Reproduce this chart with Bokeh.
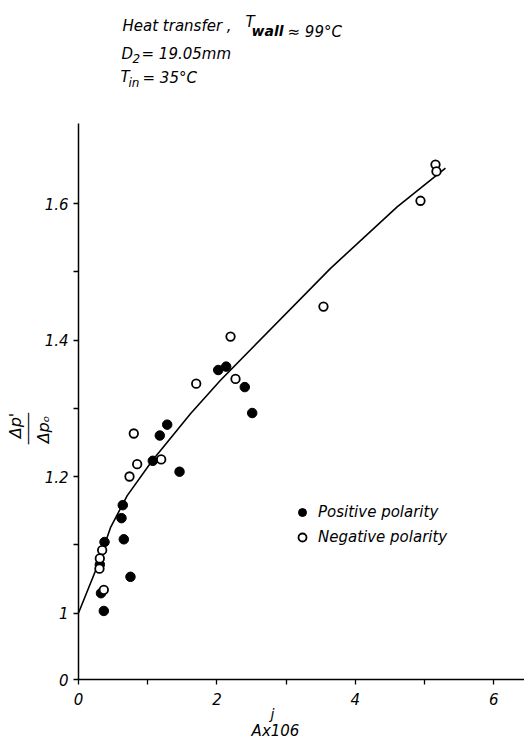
from bokeh.plotting import figure
from bokeh.models import Range1d, FixedTicker, Legend, LegendItem
from bokeh.core.properties import value
from bokeh.embed import file_html
from bokeh.resources import INLINE

# Current density j (A x 10^6) against relative pressure drop, by electrode polarity
pos_j = [0.366, 0.325, 0.751, 0.376, 0.308, 0.655, 0.621, 0.640, 1.074, 1.175,
         1.282, 1.460, 2.019, 2.134, 2.403, 2.510]
pos_dp = [1.003, 1.029, 1.053, 1.104, 1.071, 1.108, 1.139, 1.158, 1.223, 1.260,
          1.276, 1.207, 1.356, 1.361, 1.331, 1.293]

neg_j = [0.366, 0.342, 0.308, 0.303, 0.737, 0.848, 0.799, 1.195, 1.701, 2.269,
         2.197, 3.540, 4.942, 5.159, 5.173]
neg_dp = [1.034, 1.092, 1.080, 1.065, 1.200, 1.218, 1.263, 1.225, 1.336, 1.343,
          1.405, 1.449, 1.604, 1.657, 1.647]

# Smoothed trend through both series
fit_j = [0.0, 0.246, 0.462, 0.704, 1.065, 1.618, 2.052, 3.642, 4.605, 5.303]
fit_dp = [1.0, 1.062, 1.125, 1.172, 1.223, 1.292, 1.341, 1.505, 1.595, 1.652]

x_ticks = [0, 2, 4, 6]
x_minor = [1, 3, 5]
y_ticks = [1.0, 1.2, 1.4, 1.6]
y_minor = [1.1, 1.3, 1.5]
y_labels = ["1", "1.2", "1.4", "1.6"]

# Canvas geometry: the frame fills the canvas, axes sit at fixed locations
W, H = 524, 740
AX_L, AX_B, AX_T = 78, 679, 123   # pixel positions of axis origin / top end
XS = 69.2                          # px per unit of j
YS = 682.5                         # px per unit of dp ratio


def dx(px):
    return (px - AX_L) / XS


def dy(py):
    return 1.6 + (203 - py) / YS


X_START, X_END = dx(0), dx(W)
Y_START, Y_END = dy(H), dy(0)
Y_BREAK = dy(AX_B)                 # broken axis: the zero sits here

FONT = "DejaVu Sans"

p = figure(width=W, height=H, output_backend="svg", toolbar_location=None,
           x_range=Range1d(X_START, X_END), y_range=Range1d(Y_START, Y_END),
           min_border=0)
p.outline_line_color = None
p.grid.visible = False
p.background_fill_color = "white"
p.border_fill_color = "white"

for ax in (p.xaxis[0], p.yaxis[0]):
    ax.axis_line_color = "black"
    ax.axis_line_width = 1.5
    ax.major_tick_line_color = "black"
    ax.minor_tick_line_color = "black"
    ax.major_tick_line_width = 1.3
    ax.minor_tick_line_width = 1.3
    ax.major_tick_in = 0
    ax.major_tick_out = 5
    ax.minor_tick_in = 0
    ax.minor_tick_out = 5
    ax.major_label_text_font = FONT
    ax.major_label_text_font_style = "italic"
    ax.major_label_text_font_size = "15px"
    ax.major_label_text_color = "black"

xa = p.xaxis[0]
xa.fixed_location = Y_BREAK
xa.bounds = (0, X_END)
xa.ticker = FixedTicker(ticks=x_ticks, minor_ticks=x_minor)
xa.major_label_standoff = 8
xa.major_label_overrides = {t: str(t) for t in x_ticks}

ya = p.yaxis[0]
ya.fixed_location = 0
ya.bounds = (Y_BREAK, dy(AX_T))
ya.ticker = FixedTicker(ticks=[Y_BREAK] + y_ticks, minor_ticks=y_minor)
ya.major_label_standoff = 5
overrides = {Y_BREAK: "0"}
overrides.update(dict(zip(y_ticks, y_labels)))
ya.major_label_overrides = overrides

p.line(fit_j, fit_dp, line_color="black", line_width=1.6)
r_pos = p.scatter(pos_j, pos_dp, marker="circle", size=9.5,
                  fill_color="black", line_color="black")
r_neg = p.scatter(neg_j, neg_dp, marker="circle", size=8.5,
                  fill_color="white", line_color="black", line_width=1.8)

legend = Legend(items=[LegendItem(label="Positive polarity", renderers=[r_pos]),
                       LegendItem(label="Negative polarity", renderers=[r_neg])],
                location=(292, 193), padding=0, margin=0, spacing=5,
                glyph_width=20, glyph_height=20, label_height=20,
                label_standoff=6, border_line_color=None,
                background_fill_alpha=0,
                label_text_font=FONT, label_text_font_style="italic",
                label_text_font_size="15px", label_text_color="black")
p.add_layout(legend)


def txt(px, py, s, size="15px", style="italic", align="left",
        baseline="alphabetic", angle=0.0):
    p.text(x=[dx(px)], y=[dy(py)], text=[s], text_font=value(FONT),
           text_font_size=size, text_font_style=style, text_color="black",
           text_align=align, text_baseline=baseline, angle=angle)


# Heading: test conditions
txt(122, 25, "Heat transfer ,")
txt(245, 21, "T")
txt(251, 30, "wall", size="14px", style="bold italic")
txt(287, 31, "\u2248 99\u00b0C")
txt(121, 53, "D")
txt(132, 58, "2", size="12px")
txt(141, 53, "= 19.05mm")
txt(120, 76, "T")
txt(128, 82, "in", size="12px")
txt(142, 77, "= 35\u00b0C")

# Y axis title: pressure-drop ratio as a vertical fraction
txt(15, 425, "\u0394p'", size="16px", align="center", baseline="middle",
    angle=1.5708)
txt(28, 428, "\u2500\u2500\u2500\u2500", size="13px", style="normal",
    align="center", baseline="middle", angle=1.5708)
txt(43, 429, "\u0394p\u2092", size="16px", align="center", baseline="middle",
    angle=1.5708)

# X axis title
txt(272, 713, "j", size="14px", align="center", baseline="middle")
txt(275, 730, "Ax106", align="center", baseline="middle")

open("out.html", "w").write(file_html(p, INLINE))
